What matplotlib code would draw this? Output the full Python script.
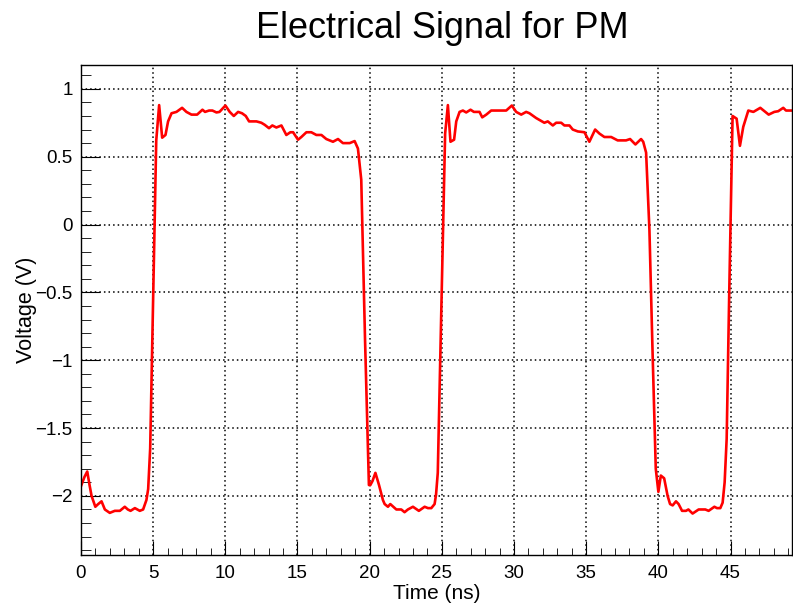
import matplotlib
matplotlib.use('Agg')
import matplotlib.pyplot as plt
from matplotlib.ticker import MultipleLocator, FuncFormatter

plt.rcParams['font.family'] = ['Liberation Sans', 'DejaVu Sans']

# Signal samples (time in ns, voltage in V)
time_ns = [
    0.0, 0.25, 0.44, 0.6, 0.74, 1.0, 1.2, 1.43, 1.66, 2.0, 2.35, 2.7, 3.04, 3.25,
    3.44, 3.74, 4.08, 4.31, 4.54, 4.66, 4.8, 5.0, 5.22, 5.42, 5.63, 5.86, 6.04,
    6.28, 6.62, 7.01, 7.31, 7.66, 8.05, 8.42, 8.6, 8.88, 9.11, 9.39, 9.6, 10.01,
    10.31, 10.59, 10.89, 11.16, 11.42, 11.65, 12.16, 12.5, 12.73, 13.03, 13.26,
    13.54, 13.89, 14.23, 14.51, 14.7, 15.04, 15.27, 15.62, 15.96, 16.31, 16.66,
    17.0, 17.46, 17.81, 18.15, 18.62, 18.96, 19.19, 19.42, 19.68, 19.95, 20.05,
    20.2, 20.4, 20.65, 20.92, 21.04, 21.27, 21.43, 21.85, 22.19, 22.42, 22.65,
    23.0, 23.41, 23.81, 24.04, 24.27, 24.5, 24.6, 24.72, 25.0, 25.23, 25.42,
    25.6, 25.85, 26.0, 26.23, 26.46, 26.69, 26.99, 27.22, 27.61, 27.8, 28.08,
    28.42, 28.9, 29.46, 29.85, 30.15, 30.5, 30.84, 31.07, 31.53, 32.1, 32.34,
    32.69, 32.92, 33.27, 33.49, 33.84, 34.07, 34.42, 34.88, 35.22, 35.62, 35.92,
    36.26, 36.73, 37.18, 37.76, 38.04, 38.41, 38.8, 38.95, 39.15, 39.38, 39.6,
    39.82, 40.0, 40.17, 40.4, 40.64, 40.81, 40.99, 41.22, 41.4, 41.64, 41.91,
    42.08, 42.37, 42.79, 43.25, 43.48, 43.88, 44.06, 44.29, 44.45, 44.59, 44.73,
    44.9, 45.14, 45.42, 45.65, 45.88, 46.23, 46.58, 47.06, 47.35, 47.64, 48.03,
    48.3, 48.65, 48.84, 49.27,
]
voltage = [
    -1.93, -1.86, -1.82, -1.92, -2.0, -2.08, -2.06, -2.04, -2.10, -2.125, -2.11,
    -2.11, -2.08, -2.10, -2.11, -2.09, -2.11, -2.10, -2.03, -1.95, -1.65, -0.55,
    0.62, 0.88, 0.64, 0.66, 0.76, 0.82, 0.83, 0.86, 0.83, 0.81, 0.81, 0.846,
    0.83, 0.84, 0.84, 0.826, 0.83, 0.877, 0.83, 0.80, 0.83, 0.82, 0.80, 0.76,
    0.76, 0.75, 0.735, 0.71, 0.73, 0.715, 0.73, 0.66, 0.68, 0.68, 0.625, 0.645,
    0.68, 0.68, 0.66, 0.66, 0.63, 0.61, 0.63, 0.60, 0.60, 0.615, 0.56, 0.33,
    -0.84, -1.92, -1.92, -1.89, -1.83, -1.92, -2.03, -2.06, -2.08, -2.06, -2.10,
    -2.10, -2.12, -2.10, -2.08, -2.11, -2.08, -2.09, -2.09, -2.06, -1.99, -1.83,
    -0.46, 0.67, 0.88, 0.61, 0.625, 0.76, 0.83, 0.84, 0.826, 0.846, 0.83, 0.83,
    0.79, 0.81, 0.84, 0.84, 0.84, 0.877, 0.83, 0.81, 0.83, 0.82, 0.785, 0.75,
    0.76, 0.73, 0.75, 0.75, 0.73, 0.73, 0.70, 0.686, 0.68, 0.61, 0.70, 0.67,
    0.645, 0.645, 0.62, 0.62, 0.63, 0.59, 0.63, 0.61, 0.53, -0.04, -0.95, -1.80,
    -1.97, -1.85, -1.87, -2.0, -2.06, -2.07, -2.04, -2.06, -2.11, -2.11, -2.10,
    -2.13, -2.10, -2.10, -2.11, -2.08, -2.09, -2.09, -2.05, -1.90, -1.58, -0.55,
    0.80, 0.78, 0.58, 0.72, 0.84, 0.83, 0.86, 0.835, 0.81, 0.83, 0.835, 0.86,
    0.84, 0.84,
]


def root_label(val, pos):
    # ROOT style: shortest form, real minus sign
    return ('%g' % val).replace('-', '\u2212')


fig = plt.figure(figsize=(7.93, 6.07), dpi=100)
ax = fig.add_axes([0.102, 0.086, 0.897, 0.807])

ax.plot(time_ns, voltage, color='#ff0000', linewidth=1.9)

ax.set_xlim(0, 49.27)
ax.set_ylim(-2.434, 1.176)

ax.xaxis.set_major_locator(MultipleLocator(5))
ax.xaxis.set_minor_locator(MultipleLocator(1))
ax.yaxis.set_major_locator(MultipleLocator(0.5))
ax.yaxis.set_minor_locator(MultipleLocator(0.1))
ax.xaxis.set_major_formatter(FuncFormatter(root_label))
ax.yaxis.set_major_formatter(FuncFormatter(root_label))

ax.grid(True, which='major', color='black', linestyle=(0, (1, 2)), linewidth=1.1)

ax.tick_params(which='both', direction='in', top=False, right=False,
               labelsize=13.5, color='black')
ax.tick_params(axis='x', which='major', length=10, pad=7)
ax.tick_params(axis='x', which='minor', length=5)
ax.tick_params(axis='y', which='major', length=14, pad=6)
ax.tick_params(axis='y', which='minor', length=7)

for side in ax.spines.values():
    side.set_linewidth(1.0)

ax.set_xlabel('Time (ns)', fontsize=15, labelpad=2)
ax.set_ylabel('Voltage (V)', fontsize=15.5, labelpad=-1.5)

fig.text(0.558, 0.953, 'Electrical Signal for PM', fontsize=26,
         ha='center', va='center')

fig.savefig('out.png', dpi=100)
